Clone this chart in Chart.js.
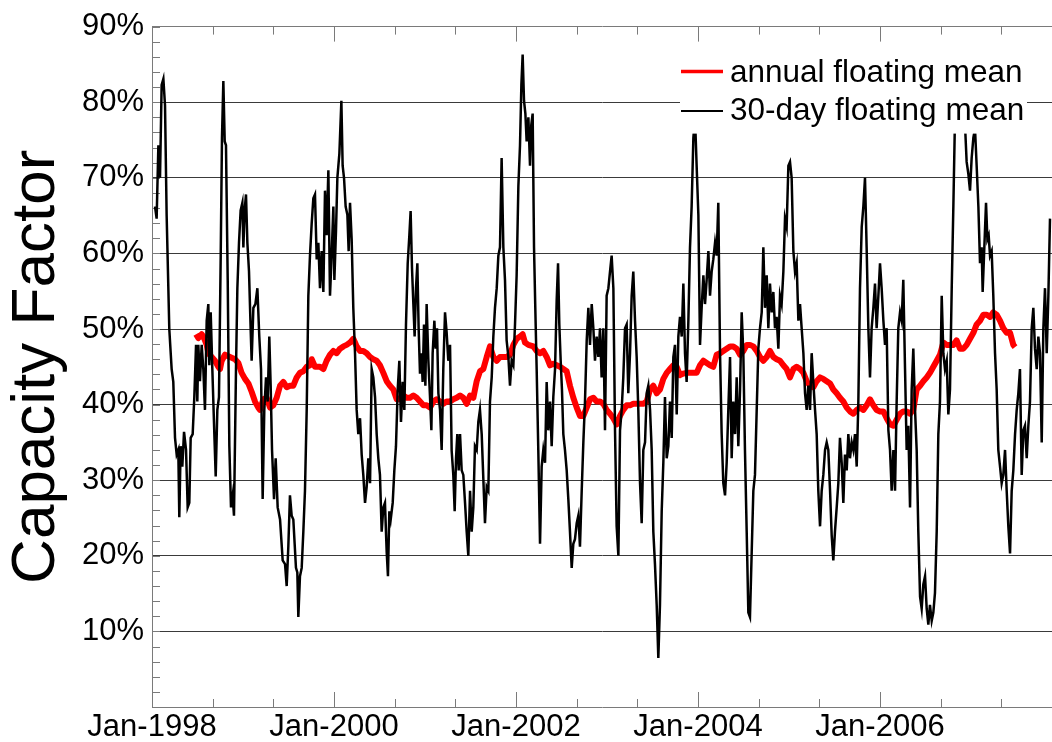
<!DOCTYPE html>
<html>
<head>
<meta charset="utf-8">
<title>Capacity Factor</title>
<script src="https://cdn.jsdelivr.net/npm/chart.js@4.4.1/dist/chart.umd.min.js"></script>
<style>
  html, body { margin: 0; padding: 0; background: #fff; }
  #wrap { width: 1052px; height: 742px; }
</style>
</head>
<body>
<div id="wrap"><canvas id="cf" width="1052" height="742"></canvas></div>
<script>
// time is in years since 1 Jan 1998, values are capacity factor in percent
const thirtyDayMean = [
  [0.033,66.2],[0.051,64.6],[0.070,74.3],[0.088,70.0],[0.106,82.3],[0.125,83.1],[0.143,79.6],[0.161,65.0],
  [0.190,50.0],[0.216,44.7],[0.234,43.0],[0.253,35.6],[0.271,33.4],[0.289,34.0],[0.300,25.1],[0.315,34.5],
  [0.333,31.8],[0.352,36.4],[0.374,34.0],[0.392,26.4],[0.410,27.0],[0.425,35.6],[0.447,36.1],[0.465,41.0],
  [0.484,47.9],[0.498,40.4],[0.509,47.9],[0.527,43.1],[0.546,47.9],[0.564,44.7],[0.582,39.3],[0.601,51.1],
  [0.619,53.3],[0.630,45.2],[0.645,52.2],[0.663,44.7],[0.685,36.1],[0.700,30.5],[0.718,39.3],[0.736,41.0],
  [0.755,59.7],[0.769,75.3],[0.784,82.8],[0.799,74.8],[0.813,74.3],[0.832,56.5],[0.850,34.5],[0.868,26.4],
  [0.886,28.0],[0.901,25.3],[0.923,44.7],[0.938,55.4],[0.956,61.4],[0.974,65.7],[0.993,66.7],[1.004,60.8],
  [1.018,65.7],[1.033,67.8],[1.048,61.4],[1.066,57.6],[1.084,50.0],[1.095,45.8],[1.114,52.8],[1.136,53.3],
  [1.158,55.4],[1.179,49.0],[1.198,44.7],[1.216,27.5],[1.234,39.3],[1.253,43.6],[1.271,40.4],[1.289,49.0],
  [1.304,42.5],[1.319,34.0],[1.341,27.5],[1.359,32.9],[1.381,26.4],[1.407,24.8],[1.436,19.4],[1.462,18.9],
  [1.480,16.0],[1.498,21.2],[1.516,28.0],[1.535,25.3],[1.553,24.8],[1.582,18.4],[1.597,17.8],[1.608,11.9],
  [1.626,17.3],[1.645,18.4],[1.663,23.2],[1.681,28.6],[1.700,39.3],[1.718,54.4],[1.736,59.7],[1.755,64.0],
  [1.773,67.3],[1.791,67.8],[1.810,59.2],[1.828,61.4],[1.846,55.4],[1.864,60.3],[1.883,54.9],[1.901,68.3],
  [1.919,62.4],[1.938,71.0],[1.956,54.4],[1.974,59.7],[1.993,66.2],[2.004,56.5],[2.022,63.0],[2.037,70.0],
  [2.059,73.2],[2.081,80.2],[2.095,71.6],[2.110,70.0],[2.128,66.2],[2.147,65.1],[2.161,60.3],[2.176,66.7],
  [2.194,61.9],[2.212,52.8],[2.231,46.8],[2.249,39.3],[2.267,36.1],[2.286,38.2],[2.304,33.4],[2.322,30.7],
  [2.341,27.0],[2.359,29.1],[2.377,32.9],[2.396,29.6],[2.414,44.7],[2.432,43.6],[2.451,41.0],[2.469,36.1],
  [2.487,32.9],[2.505,30.7],[2.524,23.2],[2.542,26.4],[2.560,27.0],[2.579,20.5],[2.593,17.3],[2.608,25.9],
  [2.623,24.8],[2.645,27.0],[2.663,31.3],[2.681,34.5],[2.700,42.0],[2.718,45.8],[2.736,37.7],[2.755,43.0],
  [2.773,39.3],[2.791,50.6],[2.810,58.7],[2.828,62.4],[2.842,65.6],[2.857,58.1],[2.872,53.3],[2.886,49.0],
  [2.901,55.4],[2.916,58.7],[2.930,50.1],[2.945,44.1],[2.960,46.8],[2.974,43.0],[2.989,50.6],[3.004,42.5],
  [3.018,53.3],[3.037,45.8],[3.055,41.0],[3.070,36.6],[3.084,46.8],[3.103,51.1],[3.117,47.4],[3.132,50.1],
  [3.147,41.5],[3.165,39.3],[3.183,34.0],[3.201,44.7],[3.220,52.2],[3.238,49.5],[3.256,45.8],[3.275,47.9],
  [3.293,33.9],[3.311,30.7],[3.326,25.9],[3.341,32.9],[3.355,36.1],[3.370,31.3],[3.385,36.1],[3.403,31.3],
  [3.421,30.7],[3.440,27.0],[3.458,23.2],[3.476,20.0],[3.495,28.6],[3.513,23.2],[3.531,26.4],[3.549,34.5],
  [3.568,34.0],[3.586,37.7],[3.604,39.3],[3.623,36.1],[3.641,30.2],[3.659,24.3],[3.678,29.1],[3.696,28.6],
  [3.714,40.4],[3.733,43.6],[3.751,49.0],[3.769,52.8],[3.788,55.4],[3.806,59.7],[3.824,60.8],[3.842,72.6],
  [3.861,60.8],[3.879,56.5],[3.897,48.5],[3.916,46.3],[3.934,42.5],[3.952,45.8],[3.971,45.2],[3.989,50.6],
  [4.007,57.1],[4.026,68.9],[4.044,74.3],[4.059,82.3],[4.073,86.3],[4.088,80.2],[4.103,78.5],[4.117,74.8],
  [4.136,78.0],[4.154,71.6],[4.168,77.0],[4.183,78.5],[4.198,60.8],[4.212,52.8],[4.227,44.7],[4.245,34.0],
  [4.264,21.6],[4.282,31.8],[4.300,34.0],[4.319,32.3],[4.337,43.0],[4.355,36.6],[4.374,40.4],[4.392,34.5],
  [4.410,41.0],[4.429,44.7],[4.447,53.8],[4.462,58.7],[4.476,50.6],[4.491,45.8],[4.505,42.0],[4.520,36.1],
  [4.538,34.0],[4.557,31.3],[4.575,27.5],[4.593,23.2],[4.612,18.4],[4.630,21.6],[4.648,22.2],[4.667,24.3],
  [4.685,25.3],[4.703,21.2],[4.722,28.6],[4.740,35.0],[4.758,40.4],[4.777,48.5],[4.795,52.8],[4.813,47.9],
  [4.832,53.3],[4.850,50.1],[4.868,45.8],[4.886,49.0],[4.905,46.3],[4.923,50.1],[4.941,43.6],[4.960,50.1],
  [4.978,36.6],[4.996,54.4],[5.015,55.4],[5.033,57.6],[5.051,59.7],[5.070,55.4],[5.088,36.6],[5.106,23.9],
  [5.125,20.0],[5.143,36.6],[5.161,39.3],[5.179,43.6],[5.198,50.1],[5.216,50.6],[5.234,41.5],[5.253,46.8],
  [5.271,54.4],[5.289,57.6],[5.308,51.1],[5.326,46.3],[5.344,39.3],[5.363,29.6],[5.381,24.3],[5.399,34.0],
  [5.418,35.0],[5.436,41.5],[5.454,42.5],[5.473,39.3],[5.491,34.0],[5.509,23.2],[5.527,18.9],[5.546,13.5],
  [5.564,6.5],[5.582,13.5],[5.601,25.9],[5.619,32.3],[5.637,41.0],[5.656,32.9],[5.674,34.5],[5.692,40.4],
  [5.711,35.6],[5.729,46.3],[5.747,47.9],[5.766,38.7],[5.784,49.0],[5.802,51.6],[5.821,49.0],[5.839,56.0],
  [5.857,46.8],[5.875,43.0],[5.894,51.1],[5.912,60.8],[5.930,66.2],[5.949,75.3],[5.967,78.0],[5.985,71.6],
  [6.004,65.1],[6.022,47.9],[6.040,52.8],[6.059,57.1],[6.077,53.3],[6.095,56.5],[6.114,60.3],[6.132,54.4],
  [6.150,57.6],[6.168,59.2],[6.187,61.4],[6.205,59.7],[6.223,66.7],[6.242,46.8],[6.260,36.1],[6.278,29.6],
  [6.297,28.0],[6.315,32.3],[6.333,39.3],[6.352,46.3],[6.370,32.9],[6.388,40.4],[6.407,36.1],[6.425,43.6],
  [6.443,34.5],[6.462,42.0],[6.480,52.2],[6.498,46.8],[6.516,34.0],[6.535,23.2],[6.553,12.5],[6.571,11.9],
  [6.590,20.5],[6.608,28.6],[6.626,30.7],[6.645,39.3],[6.663,47.4],[6.681,50.1],[6.700,52.2],[6.718,60.8],
  [6.736,52.8],[6.755,57.1],[6.773,50.1],[6.791,56.0],[6.810,52.2],[6.828,54.9],[6.846,50.1],[6.864,51.6],
  [6.883,47.4],[6.901,54.4],[6.919,53.3],[6.938,57.6],[6.956,64.6],[6.974,63.5],[6.993,71.6],[7.011,72.1],
  [7.029,70.0],[7.048,60.3],[7.066,57.6],[7.084,58.7],[7.103,51.1],[7.121,53.3],[7.139,50.1],[7.158,46.8],
  [7.176,41.5],[7.194,39.3],[7.212,42.5],[7.231,39.3],[7.249,46.8],[7.267,43.0],[7.286,39.3],[7.304,36.1],
  [7.322,28.6],[7.341,23.9],[7.359,28.6],[7.377,30.7],[7.396,34.0],[7.414,35.0],[7.432,34.0],[7.451,28.6],
  [7.469,22.7],[7.487,19.4],[7.505,23.2],[7.524,26.4],[7.542,29.6],[7.560,35.6],[7.579,32.3],[7.597,27.0],
  [7.615,33.4],[7.634,31.3],[7.652,36.1],[7.670,32.9],[7.689,35.0],[7.707,34.0],[7.725,36.1],[7.744,31.8],
  [7.762,40.4],[7.780,55.4],[7.799,63.5],[7.817,66.2],[7.835,70.0],[7.853,60.8],[7.872,50.1],[7.890,43.6],
  [7.908,50.1],[7.927,52.8],[7.945,56.0],[7.963,50.1],[7.982,54.4],[8.000,58.7],[8.018,55.4],[8.037,51.1],
  [8.055,47.9],[8.073,50.1],[8.092,36.6],[8.110,34.0],[8.128,28.6],[8.147,34.0],[8.165,28.6],[8.183,40.4],
  [8.201,50.1],[8.220,52.2],[8.238,51.1],[8.256,56.5],[8.275,44.7],[8.293,34.0],[8.311,37.2],[8.330,26.4],
  [8.348,42.0],[8.366,47.4],[8.385,39.3],[8.403,34.0],[8.421,23.2],[8.440,14.6],[8.458,13.0],[8.476,16.2],
  [8.495,17.3],[8.513,13.0],[8.531,10.9],[8.549,13.5],[8.568,11.4],[8.586,12.5],[8.604,15.1],[8.623,23.2],
  [8.641,36.1],[8.659,40.4],[8.678,54.4],[8.696,46.8],[8.714,44.7],[8.733,45.8],[8.751,38.7],[8.769,42.0],
  [8.788,55.4],[8.806,66.2],[8.824,78.0],[8.850,83.0],[8.879,79.0],[8.908,84.0],[8.934,77.0],[8.952,72.1],
  [8.971,70.5],[8.989,68.3],[9.007,72.6],[9.026,75.3],[9.044,76.5],[9.062,71.6],[9.081,66.2],[9.099,58.7],
  [9.117,60.8],[9.128,54.9],[9.143,59.7],[9.165,66.7],[9.180,61.9],[9.194,62.4],[9.209,59.7],[9.227,60.3],
  [9.245,54.4],[9.264,46.8],[9.282,42.0],[9.300,34.0],[9.319,31.8],[9.337,29.6],[9.355,30.7],[9.374,34.0],
  [9.392,28.6],[9.410,23.9],[9.429,20.3],[9.447,28.6],[9.465,31.3],[9.484,36.1],[9.502,39.3],[9.520,41.5],
  [9.538,44.7],[9.557,30.7],[9.575,36.6],[9.593,37.2],[9.612,32.9],[9.630,37.2],[9.648,40.4],[9.667,50.1],
  [9.685,52.8],[9.703,47.4],[9.722,44.7],[9.740,49.0],[9.758,46.8],[9.777,35.0],[9.795,50.1],[9.813,55.4],
  [9.832,46.8],[9.850,54.4],[9.868,64.6]
];

const annualMean = [
  [0.484,49.3],[0.509,48.8],[0.546,49.3],[0.564,49.0],[0.582,48.5],[0.601,47.9],[0.619,46.8],[0.656,46.3],
  [0.692,45.8],[0.729,45.0],[0.747,44.7],[0.766,45.8],[0.802,46.6],[0.857,46.3],[0.912,46.0],[0.949,45.5],
  [0.985,44.2],[1.022,43.4],[1.059,42.8],[1.095,41.7],[1.132,40.4],[1.168,39.6],[1.187,39.3],[1.223,40.7],
  [1.260,40.9],[1.297,39.6],[1.333,39.9],[1.370,40.9],[1.407,42.5],[1.443,43.0],[1.480,42.3],[1.516,42.5],
  [1.553,42.5],[1.590,43.6],[1.626,44.2],[1.663,44.4],[1.700,45.0],[1.736,45.2],[1.755,46.0],[1.791,45.0],
  [1.846,45.0],[1.883,44.7],[1.919,45.8],[1.956,46.6],[1.993,47.1],[2.029,46.8],[2.066,47.4],[2.103,47.7],
  [2.139,47.9],[2.176,48.2],[2.212,48.7],[2.231,48.2],[2.249,47.7],[2.286,47.1],[2.322,47.1],[2.359,46.8],
  [2.396,46.3],[2.432,46.0],[2.469,45.8],[2.505,45.2],[2.542,44.2],[2.579,43.1],[2.615,42.5],[2.652,42.0],
  [2.689,40.7],[2.725,40.7],[2.762,41.2],[2.799,40.9],[2.835,40.9],[2.872,41.2],[2.908,40.9],[2.945,40.4],
  [2.982,39.9],[3.018,39.9],[3.055,39.6],[3.092,40.4],[3.128,40.7],[3.165,40.4],[3.201,40.1],[3.238,40.4],
  [3.275,40.4],[3.311,40.7],[3.348,40.9],[3.385,41.2],[3.421,40.9],[3.458,40.1],[3.495,41.2],[3.531,40.9],
  [3.568,43.1],[3.604,44.4],[3.641,44.7],[3.678,46.3],[3.714,47.7],[3.751,46.3],[3.788,45.8],[3.824,46.3],
  [3.861,46.3],[3.897,46.3],[3.934,46.6],[3.971,47.9],[4.007,48.7],[4.044,49.0],[4.073,49.3],[4.099,48.2],
  [4.136,47.9],[4.191,47.7],[4.227,47.1],[4.264,46.8],[4.300,47.1],[4.337,46.3],[4.374,45.2],[4.410,45.4],
  [4.447,45.2],[4.484,45.0],[4.520,44.7],[4.557,44.4],[4.593,42.5],[4.630,40.9],[4.667,39.6],[4.703,38.5],
  [4.740,38.5],[4.777,39.6],[4.813,40.7],[4.850,40.9],[4.886,40.4],[4.923,40.4],[4.960,40.1],[4.996,39.3],
  [5.033,38.8],[5.070,38.2],[5.106,37.4],[5.143,38.5],[5.179,39.3],[5.216,39.9],[5.253,39.9],[5.289,40.1],
  [5.326,40.1],[5.363,40.1],[5.399,40.1],[5.436,40.4],[5.473,42.0],[5.509,42.5],[5.546,41.5],[5.582,42.0],
  [5.619,43.4],[5.656,44.2],[5.692,44.7],[5.729,45.2],[5.766,45.0],[5.802,43.9],[5.839,44.1],[5.875,44.2],
  [5.912,44.2],[5.949,44.2],[5.985,44.2],[6.022,45.2],[6.059,45.8],[6.095,45.5],[6.132,45.2],[6.168,45.0],
  [6.205,46.6],[6.242,46.8],[6.278,47.1],[6.315,47.4],[6.352,47.7],[6.388,47.7],[6.425,47.4],[6.462,46.6],
  [6.498,47.1],[6.535,47.9],[6.571,47.9],[6.608,47.7],[6.645,47.1],[6.681,46.3],[6.718,45.8],[6.755,46.3],
  [6.791,47.1],[6.828,46.3],[6.864,46.0],[6.901,45.8],[6.938,45.2],[6.974,44.7],[7.011,43.6],[7.048,44.7],
  [7.084,45.0],[7.121,44.7],[7.158,44.2],[7.194,43.1],[7.231,42.5],[7.267,42.3],[7.304,43.1],[7.341,43.6],
  [7.377,43.4],[7.414,43.1],[7.451,42.8],[7.487,42.0],[7.524,41.5],[7.560,40.9],[7.597,40.4],[7.634,39.6],
  [7.670,39.1],[7.707,38.8],[7.744,39.3],[7.780,39.6],[7.817,39.3],[7.853,39.9],[7.890,40.7],[7.927,39.9],
  [7.963,39.3],[8.000,39.1],[8.037,39.1],[8.073,38.2],[8.110,37.4],[8.147,37.2],[8.183,38.0],[8.220,38.8],
  [8.256,39.1],[8.293,39.1],[8.330,38.8],[8.366,39.3],[8.403,42.0],[8.440,42.5],[8.476,43.1],[8.513,43.6],
  [8.549,44.2],[8.586,45.0],[8.623,45.8],[8.659,46.6],[8.696,48.2],[8.733,47.9],[8.769,47.9],[8.806,47.9],
  [8.842,48.5],[8.879,47.4],[8.916,47.4],[8.952,47.9],[8.989,48.7],[9.026,49.5],[9.062,50.6],[9.099,51.1],
  [9.136,51.9],[9.172,51.9],[9.209,51.6],[9.245,52.2],[9.282,51.9],[9.319,51.1],[9.355,50.1],[9.392,49.5],
  [9.429,49.5],[9.465,47.9],[9.484,47.6]
];

const START_YEAR = 1998;
const labelYears = [0, 2, 4, 6, 8];                              // Jan-1998 ... Jan-2006
const tickMonths = [0, 8, 16, 24, 32, 40, 48, 56, 64, 72, 80, 88, 96, 104, 112];
const yTicks = [10, 20, 30, 40, 50, 60, 70, 80, 90];
const yMinorTicks = Array.from({ length: 46 }, (_, i) => i * 2);
const seriesNames = ['annual floating mean', '30-day floating mean'];

const FONT = '"Liberation Sans", Arial, Helvetica, sans-serif';
const AXIS_GREY = '#7a7a7a';
const GRID = '#3a3a3a';
const RED = '#ff0000';

Chart.defaults.font.family = FONT;
Chart.defaults.color = '#000';

// inward tick marks on the left, bottom and top edges of the plot box
const boxTicks = {
  id: 'boxTicks',
  beforeDatasetsDraw(chart) {
    const { ctx, chartArea: a, scales: { x, y } } = chart;
    ctx.save();
    ctx.strokeStyle = AXIS_GREY;
    ctx.lineWidth = 1;
    ctx.beginPath();
    for (const v of yMinorTicks) {
      const py = Math.round(y.getPixelForValue(v)) + 0.5;
      ctx.moveTo(a.left, py);
      ctx.lineTo(a.left + 8, py);
    }
    for (const m of tickMonths) {
      const px = Math.round(x.getPixelForValue(m / 12)) + 0.5;
      const len = m % 24 === 0 ? 15 : 8;
      ctx.moveTo(px, a.bottom);
      ctx.lineTo(px, a.bottom - len);
      ctx.moveTo(px, a.top);
      ctx.lineTo(px, a.top + len);
    }
    ctx.stroke();
    ctx.restore();
  }
};

// boxed legend in the upper right, painted over the traces
const boxLegend = {
  id: 'boxLegend',
  afterDatasetsDraw(chart) {
    const { ctx, chartArea: a } = chart;
    const left = a.right - 372, top = a.top + 18;
    ctx.save();
    ctx.fillStyle = '#fff';
    ctx.fillRect(left, top, 347, 89);

    const rows = [
      { color: RED, width: 3.5, lineY: top + 27, textY: top + 37 },
      { color: '#000', width: 2, lineY: top + 66.5, textY: top + 75 }
    ];
    rows.forEach((r, i) => {
      ctx.strokeStyle = r.color;
      ctx.lineWidth = r.width;
      ctx.beginPath();
      ctx.moveTo(left + 1, r.lineY);
      ctx.lineTo(left + 43, r.lineY);
      ctx.stroke();
      ctx.fillStyle = '#000';
      ctx.font = '31.5px ' + FONT;
      ctx.textBaseline = 'alphabetic';
      ctx.textAlign = 'left';
      ctx.fillText(seriesNames[i], left + 50, r.textY);
    });
    ctx.restore();
  }
};

const toPoints = rows => rows.map(([t, v]) => ({ x: t, y: v }));

new Chart(document.getElementById('cf'), {
  type: 'line',
  data: {
    datasets: [
      {
        label: seriesNames[0],
        data: toPoints(annualMean),
        borderColor: RED,
        borderWidth: 6,
        borderJoinStyle: 'round',
        pointRadius: 0,
        tension: 0,
        order: 1
      },
      {
        label: seriesNames[1],
        data: toPoints(thirtyDayMean),
        borderColor: '#000',
        borderWidth: 2.5,
        pointRadius: 0,
        tension: 0,
        order: 0
      }
    ]
  },
  options: {
    responsive: false,
    devicePixelRatio: 1,
    animation: false,
    layout: { padding: { top: 22, right: 0, bottom: 0, left: 0 } },
    plugins: { legend: { display: false }, tooltip: { enabled: false } },
    scales: {
      x: {
        type: 'linear',
        min: 0,
        max: 9.89,
        afterFit: s => { s.height = 35; },
        afterBuildTicks: s => { s.ticks = labelYears.map(value => ({ value })); },
        ticks: {
          autoSkip: false,
          maxRotation: 0,
          padding: 2,
          font: { size: 31 },
          color: '#000',
          callback: v => 'Jan-' + (START_YEAR + v)
        },
        grid: { display: false, drawTicks: false },
        border: { display: true, color: AXIS_GREY, width: 1 }
      },
      y: {
        min: 0,
        max: 90,
        afterFit: s => { s.width = 152; },
        afterBuildTicks: s => { s.ticks = yTicks.map(value => ({ value })); },
        ticks: {
          padding: 8,
          font: { size: 31 },
          color: '#000',
          callback: v => v + '%'
        },
        grid: {
          drawTicks: false,
          lineWidth: 1,
          color: c => (c.tick && c.tick.value === 90 ? AXIS_GREY : GRID)
        },
        border: { display: true, color: AXIS_GREY, width: 1 },
        title: {
          display: true,
          text: 'Capacity Factor',
          font: { size: 62, lineHeight: 1.2 },
          color: '#000',
          padding: { top: 0, bottom: 0 }
        }
      }
    }
  },
  plugins: [boxTicks, boxLegend]
});
</script>
</body>
</html>
